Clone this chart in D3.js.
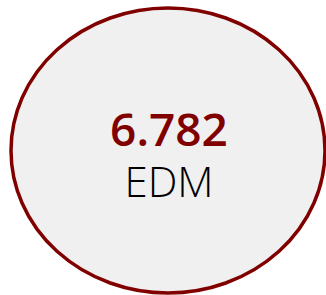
<html lang="en">
<head>
    <meta charset="UTF-8">
    <script src="https://d3js.org/d3.v7.min.js"></script>
    <style>
        body { margin: 0; background: #fff; }
    </style>
</head>
<body>
<div id="div-grafico"></div>
<script>
    // data
    var values = [6.782];
    var labels = ["EDM"];

    var width = 326, height = 295;

    var svg = d3.select("#div-grafico").append("svg")
        .attr("width", width)
        .attr("height", height);

    // ellipse box
    var x = d3.scaleLinear().domain([0, 1]).range([11, 325]);
    var y = d3.scaleLinear().domain([0, 1]).range([8, 293]);

    var cx = x(0.5), cy = y(0.5);

    svg.append("ellipse")
        .attr("cx", cx)
        .attr("cy", cy)
        .attr("rx", (x(1) - x(0)) / 2)
        .attr("ry", (y(1) - y(0)) / 2)
        .attr("fill", "#f0f0f0")
        .attr("stroke", "#800000")
        .attr("stroke-width", 3.5);

    var fmt = d3.format(".3f");

    svg.selectAll("text.value")
        .data(values)
        .enter().append("text")
        .attr("class", "value")
        .attr("x", cx + 1)
        .attr("y", 146)
        .attr("text-anchor", "middle")
        .attr("font-family", "Open Sans")
        .attr("font-weight", 600)
        .attr("font-size", 46)
        .attr("fill", "#800000")
        .text(function (d) { return fmt(d); });

    svg.selectAll("text.label")
        .data(labels)
        .enter().append("text")
        .attr("class", "label")
        .attr("x", cx + 1)
        .attr("y", 197)
        .attr("text-anchor", "middle")
        .attr("font-family", "Open Sans")
        .attr("font-weight", 350)
        .attr("font-size", 42)
        .attr("fill", "#000")
        .text(function (d) { return d; });
</script>
</body>
</html>
